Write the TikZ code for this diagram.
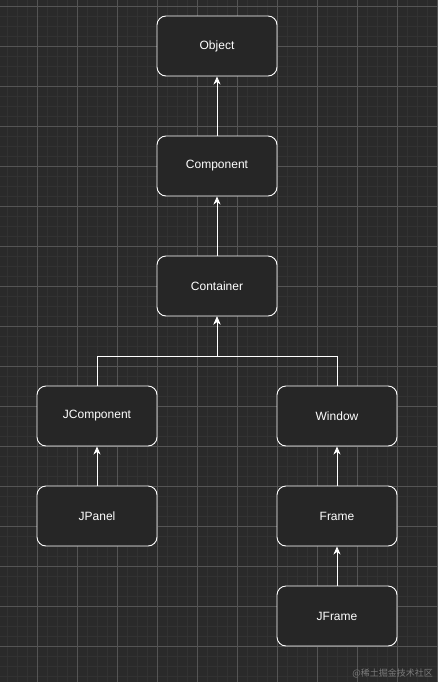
\documentclass[tikz,border=0pt]{standalone}
\usepackage{fontspec}
\setmainfont{Liberation Sans}
\newfontfamily\cjk{Noto Sans CJK SC}
\usetikzlibrary{arrows.meta}
\definecolor{bg}{RGB}{42,42,42}
\definecolor{minorgrid}{RGB}{50,50,50}
\definecolor{majorgrid}{RGB}{84,84,84}
\definecolor{boxfill}{RGB}{38,38,38}
\tikzset{
  cls/.style={draw=white, line width=0.9pt, fill=boxfill, rounded corners=9pt,
    minimum width=120pt, minimum height=60pt, inner sep=0pt,
    text=white, font=\fontsize{12}{14}\selectfont},
  inh/.style={draw=white, line width=0.9pt, -{Stealth[length=8pt,width=7pt,inset=2.5pt]}},
}
\begin{document}
\begin{tikzpicture}[x=1pt,y=-1pt]
\fill[bg] (0,0) rectangle (437,682);
\useasboundingbox (0,0) rectangle (437,682);
\foreach \i in {-3,7,...,437} \draw[minorgrid, line width=0.5pt] (\i,0) -- (\i,682);
\foreach \j in {-4,6,...,682} \draw[minorgrid, line width=0.5pt] (0,\j) -- (437,\j);
\foreach \i in {-3,37,...,437} \draw[majorgrid, line width=0.6pt] (\i,0) -- (\i,682);
\foreach \j in {6,46,...,682} \draw[majorgrid, line width=0.6pt] (0,\j) -- (437,\j);

\node[cls] (object) at (217,46) {Object};
\node[cls] (component) at (217,166) {Component};
\node[cls] (container) at (217,286) {Container};
\node[cls] (jcomponent) at (97,416) {JComponent};
\node[cls] (window) at (337,416) {Window};
\node[cls] (jpanel) at (97,516) {JPanel};
\node[cls] (frame) at (337,516) {Frame};
\node[cls] (jframe) at (337,616) {JFrame};

\draw[inh] (component) -- (object);
\draw[inh] (container) -- (component);
\draw[inh] (jcomponent.north) |- (217,356) -- (container.south);
\draw[inh] (window.north) |- (217,356) -- (container.south);
\draw[inh] (jpanel) -- (jcomponent);
\draw[inh] (frame) -- (window);
\draw[inh] (jframe) -- (frame);

\node[anchor=east, text=white!38!bg, font=\cjk\fontsize{9}{10}\selectfont, inner sep=0pt] (wm) at (433,673) {@稀土掘金技术社区};
\end{tikzpicture}
\end{document}
